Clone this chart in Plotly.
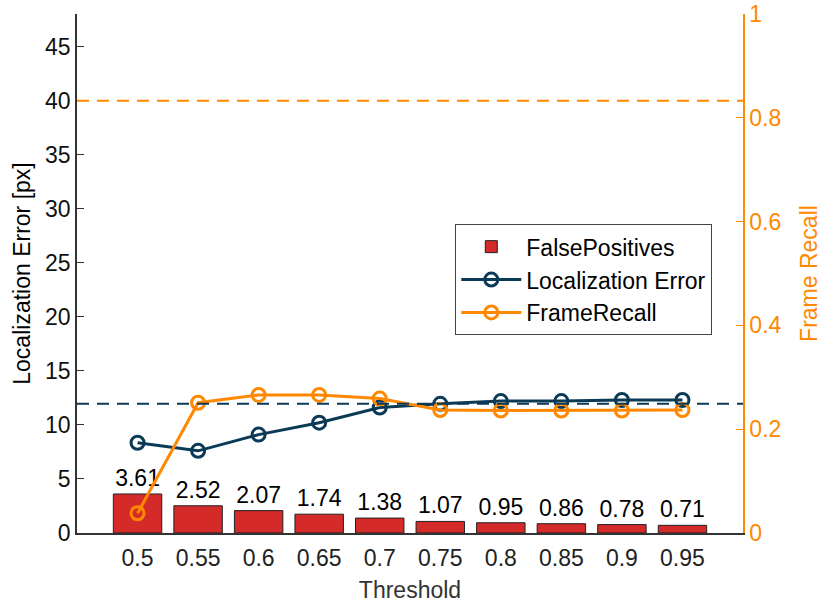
import plotly.graph_objects as go

# values
THRESHOLDS = ["0.5", "0.55", "0.6", "0.65", "0.7", "0.75", "0.8", "0.85", "0.9", "0.95"]
FALSE_POSITIVES = [3.61, 2.52, 2.07, 1.74, 1.38, 1.07, 0.95, 0.86, 0.78, 0.71]
LOC_ERROR = [8.35, 7.6, 9.1, 10.2, 11.6, 11.95, 12.2, 12.2, 12.3, 12.3]
FRAME_RECALL = [0.038, 0.251, 0.266, 0.266, 0.259, 0.237, 0.236, 0.236, 0.236, 0.237]
LOC_REF = 11.95
RECALL_REF = 0.833

RED = "#D42A2A"
NAVY = "#0B3A57"
ORANGE = "#FF8800"
FONT = "Liberation Sans, Arial, sans-serif"
FS = 23

xs = list(range(1, len(THRESHOLDS) + 1))

fig = go.Figure()
fig.add_trace(
    go.Bar(
        x=xs,
        y=FALSE_POSITIVES,
        name="FalsePositives",
        width=0.8,
        marker=dict(color=RED, line=dict(color="#222222", width=1)),
        text=[f"{v:.2f}" for v in FALSE_POSITIVES],
        textposition="outside",
        textfont=dict(size=FS, color="black"),
        cliponaxis=False,
    )
)
fig.add_trace(
    go.Scatter(
        x=xs,
        y=LOC_ERROR,
        name="Localization Error",
        mode="lines+markers",
        line=dict(color=NAVY, width=3),
        marker=dict(symbol="circle-open", size=13, color=NAVY, line=dict(width=3)),
    )
)
fig.add_trace(
    go.Scatter(
        x=xs,
        y=FRAME_RECALL,
        name="FrameRecall",
        mode="lines+markers",
        yaxis="y2",
        line=dict(color=ORANGE, width=3),
        marker=dict(symbol="circle-open", size=13, color=ORANGE, line=dict(width=3)),
    )
)

fig.add_shape(type="line", xref="paper", yref="y", x0=0, x1=1, y0=LOC_REF, y1=LOC_REF,
              line=dict(color=NAVY, width=2, dash="12px,8px"))
fig.add_shape(type="line", xref="paper", yref="y2", x0=0, x1=1, y0=RECALL_REF, y1=RECALL_REF,
              line=dict(color=ORANGE, width=2, dash="12px,8px"))

fig.update_layout(
    width=822,
    height=603,
    template="plotly_white",
    plot_bgcolor="white",
    paper_bgcolor="white",
    font=dict(family=FONT, size=FS, color="black"),
    margin=dict(l=77, r=79, t=14, b=70, autoexpand=False),
    showlegend=True,
    legend=dict(
        x=0.568, y=0.595, xanchor="left", yanchor="top",
        bgcolor="white", bordercolor="#444444", borderwidth=1,
        font=dict(size=FS), tracegroupgap=0, itemwidth=60,
    ),
    xaxis=dict(
        range=[0, 11],
        tickmode="array",
        tickvals=xs,
        ticktext=THRESHOLDS,
        tickfont=dict(size=FS, color="#222222"),
        ticklabelstandoff=4,
        showgrid=False,
        zeroline=False,
        showline=True,
        linecolor="#333333",
        linewidth=1.5,
        ticks="",
        title=dict(text="Threshold", font=dict(size=FS, color="#333333"), standoff=16),
    ),
    yaxis=dict(
        range=[0, 48],
        tickvals=[0, 5, 10, 15, 20, 25, 30, 35, 40, 45],
        tickfont=dict(size=FS, color="#111111"),
        showgrid=False,
        zeroline=False,
        showline=True,
        linecolor="#333333",
        linewidth=1.5,
        ticks="inside",
        ticklen=7,
        tickcolor="#333333",
        title=dict(text="Localization Error [px]", font=dict(size=FS), standoff=8),
    ),
    yaxis2=dict(
        range=[0, 1.0001],
        overlaying="y",
        side="right",
        tickvals=[0, 0.2, 0.4, 0.6, 0.8, 1],
        ticktext=["0", "0.2", "0.4", "0.6", "0.8", "1"],
        ticklabeloverflow="allow",
        showgrid=False,
        zeroline=False,
        showline=True,
        linecolor=ORANGE,
        linewidth=1.5,
        ticks="inside",
        ticklen=7,
        tickcolor=ORANGE,
        tickfont=dict(color=ORANGE, size=FS),
        title=dict(text="Frame Recall", font=dict(size=FS, color=ORANGE), standoff=22),
    ),
)

# drop the default page margin so the figure sits at the window's top-left corner
fig.write_html(
    "out.html",
    config={"displayModeBar": False},
    post_script="document.body.style.margin = '0';",
)
